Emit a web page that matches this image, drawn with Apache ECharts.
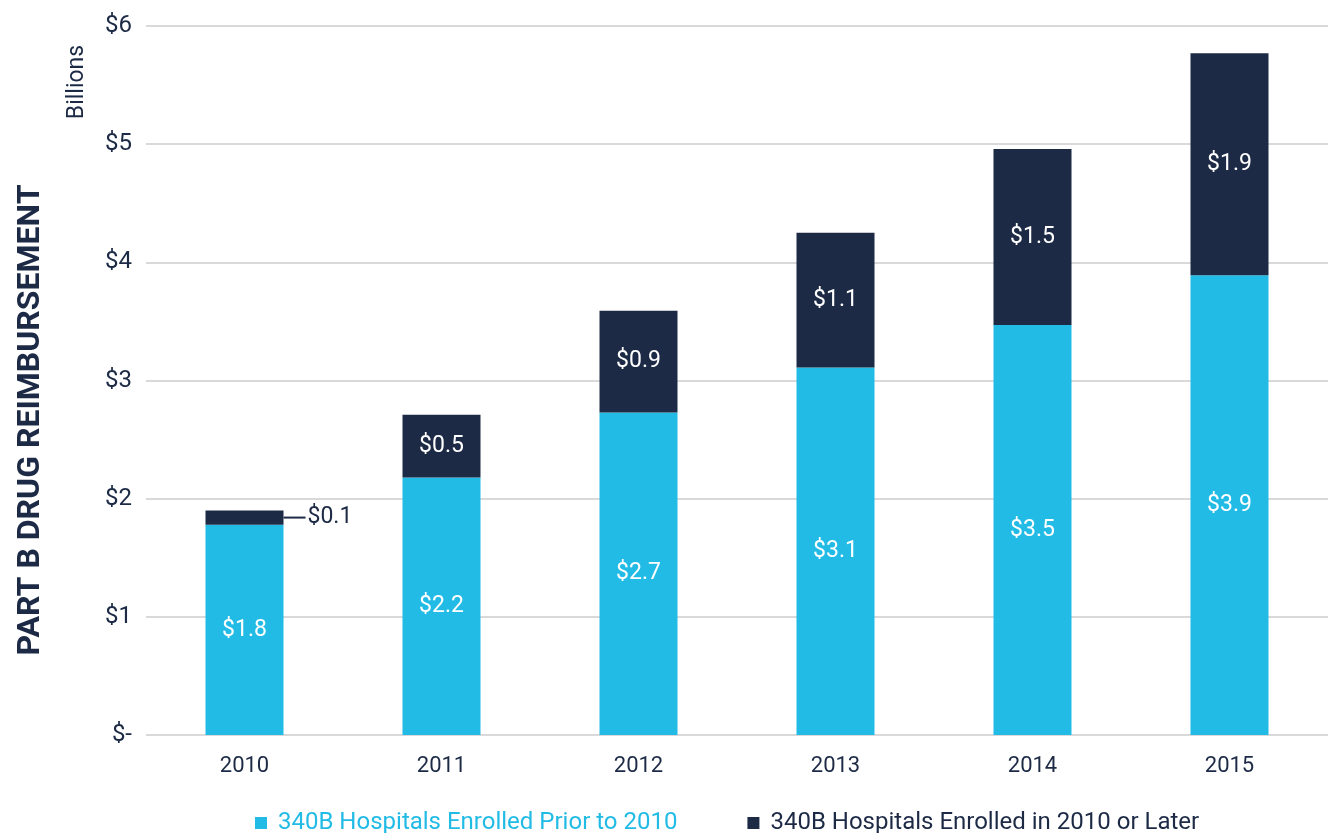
<!DOCTYPE html>
<html>
<head>
<meta charset="utf-8">
<script src="https://cdn.jsdelivr.net/npm/echarts@6/dist/echarts.min.js"></script>
<style>
  html, body { margin: 0; padding: 0; background: #fff; }
  #chart { width: 1328px; height: 833px; }
</style>
</head>
<body>
<div id="chart"></div>
<script>
// years on the x axis
const years = ['2010', '2011', '2012', '2013', '2014', '2015'];
// billions of dollars
const priorTo2010 = [1.78, 2.18, 2.73, 3.11, 3.47, 3.89];
const in2010OrLater = [0.12, 0.53, 0.86, 1.14, 1.49, 1.88];
const yTicks = [0, 1, 2, 3, 4, 5, 6];

const LIGHT = '#21bbe6';
const DARK = '#1c2a45';
const TEXT = '#1c2a45';
const FONT = 'Roboto, "Noto Sans", sans-serif';

const money = v => '$' + v.toFixed(1);

const chart = echarts.init(document.getElementById('chart'));

const option = {
  animation: false,
  textStyle: { fontFamily: FONT },
  grid: { left: 146, right: 0, top: 26, bottom: 98 },
  legend: {
    top: 806,
    left: 250,
    itemWidth: 12,
    itemHeight: 12,
    itemGap: 70,
    icon: 'rect',
    textStyle: { fontSize: 24, fontFamily: FONT, padding: [0, 0, 0, 6] },
    data: [
      { name: '340B Hospitals Enrolled Prior to 2010', textStyle: { color: LIGHT } },
      { name: '340B Hospitals Enrolled in 2010 or Later', textStyle: { color: TEXT } },
    ],
  },
  xAxis: {
    type: 'category',
    data: years,
    axisLine: { show: false },
    axisTick: { show: false },
    axisLabel: { color: TEXT, fontSize: 22, margin: 20 },
  },
  yAxis: {
    type: 'value',
    min: yTicks[0],
    max: yTicks[yTicks.length - 1],
    interval: 1,
    axisLine: { show: false },
    axisTick: { show: false },
    splitLine: { lineStyle: { color: '#d9d9d9', width: 2 } },
    axisLabel: {
      color: TEXT,
      fontSize: 24,
      margin: 14,
      formatter: v => (v === 0 ? '$-' : '$' + v),
    },
  },
  graphic: [
    {
      type: 'text',
      x: 77,
      y: 82,
      rotation: Math.PI / 2,
      style: {
        text: 'Billions',
        fill: TEXT,
        font: '23px ' + FONT,
        textAlign: 'center',
        textVerticalAlign: 'middle',
      },
    },
    {
      type: 'text',
      x: 31,
      y: 420,
      rotation: Math.PI / 2,
      style: {
        text: 'PART B DRUG REIMBURSEMENT',
        fill: TEXT,
        font: 'bold 32px ' + FONT,
        textAlign: 'center',
        textVerticalAlign: 'middle',
      },
    },
  ],
  series: [
    {
      name: '340B Hospitals Enrolled Prior to 2010',
      type: 'bar',
      stack: 'total',
      barWidth: 78,
      itemStyle: { color: LIGHT },
      label: {
        show: true,
        position: 'inside',
        color: '#fff',
        fontSize: 23,
        formatter: p => money(p.value),
      },
      data: priorTo2010,
    },
    {
      name: '340B Hospitals Enrolled in 2010 or Later',
      type: 'bar',
      stack: 'total',
      barWidth: 78,
      itemStyle: { color: DARK },
      label: {
        show: true,
        position: 'inside',
        color: '#fff',
        fontSize: 23,
        formatter: p => money(p.value),
      },
      data: in2010OrLater.map((v, i) =>
        i === 0
          ? {
              value: v,
              label: {
                position: 'right',
                distance: 0,
                color: TEXT,
                formatter: p => '{l|}{v|' + money(p.value) + '}',
                rich: {
                  l: { width: 22, height: 2, backgroundColor: TEXT },
                  v: { color: TEXT, fontSize: 23, padding: [0, 0, 0, 2] },
                },
              },
            }
          : v
      ),
    },
  ],
};

chart.setOption(option);
</script>
</body>
</html>
